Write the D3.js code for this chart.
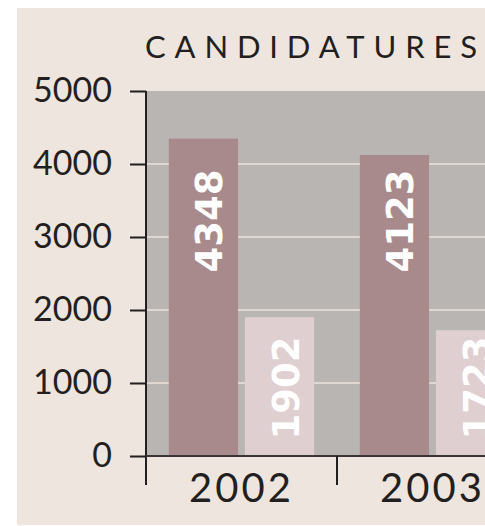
<!DOCTYPE html>
<html>
<head>
<meta charset="utf-8">
<script src="https://cdn.jsdelivr.net/npm/d3@7"></script>
<style>
  html,body{margin:0;padding:0;background:#fff;}
  svg{display:block;font-family:Lato,"Open Sans",sans-serif;}
</style>
</head>
<body>
<div id="chart"></div>
<script>
// values
var years = ["2002", "2003"];
var darkValues = [4348, 4123];
var lightValues = [1902, 1723];
var yTicks = [0, 1000, 2000, 3000, 4000, 5000];
var title = "CANDIDATURES";

var W = 485, H = 526;
var plotLeft = 146, plotTop = 91, zeroY = 456, groupW = 191;

var svg = d3.select("#chart").append("svg").attr("width", W).attr("height", H);

// beige panel
svg.append("rect").attr("x", 17).attr("y", 8).attr("width", W - 17).attr("height", 517).attr("fill", "#ede5de");

var y = d3.scaleLinear().domain([0, 5000]).range([zeroY, plotTop]);
var x = d3.scaleBand().domain(years).range([plotLeft, plotLeft + groupW * years.length]);
var xs = d3.scaleBand().domain(["a", "b"]).range([0, groupW]).paddingInner(0.09).paddingOuter(0.3);

// plot area
svg.append("rect").attr("x", plotLeft + 1).attr("y", y(5000)).attr("width", W - plotLeft).attr("height", zeroY - y(5000)).attr("fill", "#b9b5b2");

// gridlines
svg.append("g").selectAll("line").data(yTicks.filter(function(d){return d > 0 && d < 5000;}))
  .enter().append("line")
  .attr("x1", plotLeft + 1).attr("x2", W)
  .attr("y1", function(d){return y(d);}).attr("y2", function(d){return y(d);})
  .attr("stroke", "#ece4dc").attr("stroke-width", 1.5);

var rows = years.map(function(yr, i){return {year: yr, a: darkValues[i], b: lightValues[i]};});
var groups = svg.append("g").selectAll("g").data(rows).enter().append("g")
  .attr("transform", function(d){return "translate(" + x(d.year) + ",0)";});

var series = [{key: "a", fill: "#a98a8c", labelY: 235}, {key: "b", fill: "#dfcfd0", labelY: 68}];
series.forEach(function(s){
  groups.append("rect")
    .attr("x", xs(s.key)).attr("width", xs.bandwidth())
    .attr("y", function(d){return y(d[s.key]);})
    .attr("height", function(d){return zeroY - y(d[s.key]);})
    .attr("fill", s.fill);
  groups.append("text")
    .attr("transform", "translate(" + (xs(s.key) + xs.bandwidth() / 2 + 19) + "," + (zeroY - s.labelY) + ") rotate(-90)")
    .attr("text-anchor", "middle")
    .style("font-family", "'DejaVu Sans',sans-serif")
    .style("font-size", "37px").style("font-weight", "bold").style("fill", "#fff")
    .text(function(d){return d[s.key];});
});

// y axis
var yAxis = svg.append("g").attr("transform", "translate(" + plotLeft + ",0)")
  .call(d3.axisLeft(y).tickValues(yTicks).tickFormat(d3.format("d")).tickSize(16).tickPadding(18).tickSizeOuter(0));
yAxis.select(".domain").remove();
yAxis.selectAll(".tick line").attr("stroke", "#231f20").attr("stroke-width", 2);
yAxis.selectAll(".tick text").style("font-size", "34px").style("fill", "#231f20").style("font-family", "Lato,sans-serif");
svg.append("line").attr("x1", plotLeft).attr("x2", plotLeft).attr("y1", plotTop).attr("y2", 485)
  .attr("stroke", "#231f20").attr("stroke-width", 2);

// x axis
svg.append("line").attr("x1", plotLeft).attr("x2", W).attr("y1", zeroY).attr("y2", zeroY)
  .attr("stroke", "#3a3537").attr("stroke-width", 2);
svg.append("g").selectAll("line").data(years.slice(1)).enter().append("line")
  .attr("x1", function(d){return x(d);}).attr("x2", function(d){return x(d);})
  .attr("y1", zeroY).attr("y2", 485).attr("stroke", "#231f20").attr("stroke-width", 2);
svg.append("g").selectAll("text").data(years).enter().append("text")
  .attr("x", function(d){return x(d) + x.bandwidth() / 2;}).attr("y", 502)
  .attr("text-anchor", "middle")
  .style("font-size", "40px").style("letter-spacing", "3px").style("fill", "#231f20")
  .text(function(d){return d;});

// title
svg.append("text").attr("x", 145).attr("y", 58)
  .attr("textLength", 332).attr("lengthAdjust", "spacing")
  .style("font-size", "31px").style("fill", "#231f20")
  .text(title);
</script>
</body>
</html>
